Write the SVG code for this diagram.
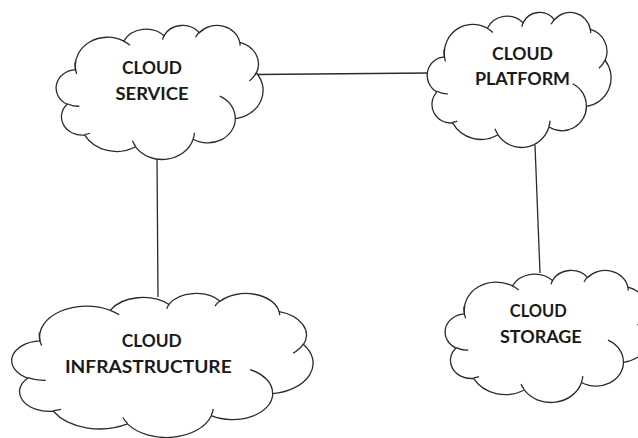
<svg xmlns="http://www.w3.org/2000/svg" xmlns:xlink="http://www.w3.org/1999/xlink" width="638" height="438" viewBox="0 0 638 438">
<style>
.cl{fill:#fff;stroke:#2b2b2b;stroke-width:1.3;vector-effect:non-scaling-stroke}
.dt{fill:none;stroke:#2b2b2b;stroke-width:1.3;vector-effect:non-scaling-stroke}
.cn{stroke:#2b2b2b;stroke-width:1.3;fill:none}
.t{font-family:Lato,"Open Sans","Liberation Sans",sans-serif;font-weight:700;font-size:16.5px;fill:#1a1a1a;text-anchor:middle}
</style>
<defs>
<g id="cloud">
<path class="cl" d="M9.03 33.26A15.63 21.27 0 0 1 32.42 12.04A12.34 16.82 0 0 1 51.98 7.95A10.10 13.76 0 0 1 69.06 5.74A11.24 15.27 0 0 1 88.70 12.91A12.34 16.84 0 0 1 96.80 35.79A15.68 21.34 0 0 1 86.58 69.91A13.39 18.21 0 0 1 66.10 85.22A15.63 21.33 0 0 1 38.15 90.89A17.87 24.41 0 0 1 13.44 82.11A10.09 13.70 0 0 1 4.89 59.14A10.06 13.76 0 0 1 9.03 33.26Z"/>
<path class="dt" d="M10.86 60.60A10.06 13.76 0 0 1 5.00 58.75M16.04 80.79A10.09 13.70 0 0 1 13.47 81.67M38.14 90.49A15.63 21.33 0 0 1 36.60 86.45M66.73 80.44A15.63 21.33 0 0 1 66.11 84.86M79.00 53.13A13.39 18.21 0 0 1 86.53 69.65M96.75 35.54A12.34 16.84 0 0 1 93.40 41.74M88.71 12.56A11.24 15.27 0 0 1 88.89 15.49M67.31 9.15A11.24 15.27 0 0 1 69.03 5.41M51.25 10.93A10.10 13.76 0 0 1 52.08 7.71M32.41 12.02A15.63 21.27 0 0 1 35.42 15.14M9.55 36.55A15.63 21.27 0 0 1 8.85 27.42"/>
</g>
</defs>
<g id="connectors">
<line class="cn" x1="256" y1="74.5" x2="429" y2="73"/>
<line class="cn" x1="535" y1="145" x2="540" y2="273"/>
<line class="cn" x1="157" y1="159" x2="158" y2="297"/>
</g>
<g id="cloud-service">
<use xlink:href="#cloud" transform="translate(57 25) scale(2.06 1.34)"/>
<text class="t" x="152" y="73.5" textLength="60" lengthAdjust="spacingAndGlyphs">CLOUD</text>
<text class="t" x="152" y="100" textLength="73" lengthAdjust="spacingAndGlyphs">SERVICE</text>
</g>
<g id="cloud-platform">
<use xlink:href="#cloud" transform="translate(428 12) scale(1.83 1.35)"/>
<text class="t" x="522.5" y="59.7" textLength="61" lengthAdjust="spacingAndGlyphs">CLOUD</text>
<text class="t" x="522.5" y="85.3" textLength="95" lengthAdjust="spacingAndGlyphs">PLATFORM</text>
</g>
<g id="cloud-infrastructure">
<use xlink:href="#cloud" transform="translate(13 293) scale(3.0 1.44)"/>
<text class="t" x="151.7" y="346.7" textLength="60" lengthAdjust="spacingAndGlyphs">CLOUD</text>
<text class="t" x="148.3" y="373.3" textLength="166.7" lengthAdjust="spacingAndGlyphs">INFRASTRUCTURE</text>
</g>
<g id="cloud-storage">
<use xlink:href="#cloud" transform="translate(446 270) scale(2.05 1.32)"/>
<text class="t" x="538.3" y="317.3" textLength="57" lengthAdjust="spacingAndGlyphs">CLOUD</text>
<text class="t" x="540.8" y="343.3" textLength="81.7" lengthAdjust="spacingAndGlyphs">STORAGE</text>
</g>
</svg>
